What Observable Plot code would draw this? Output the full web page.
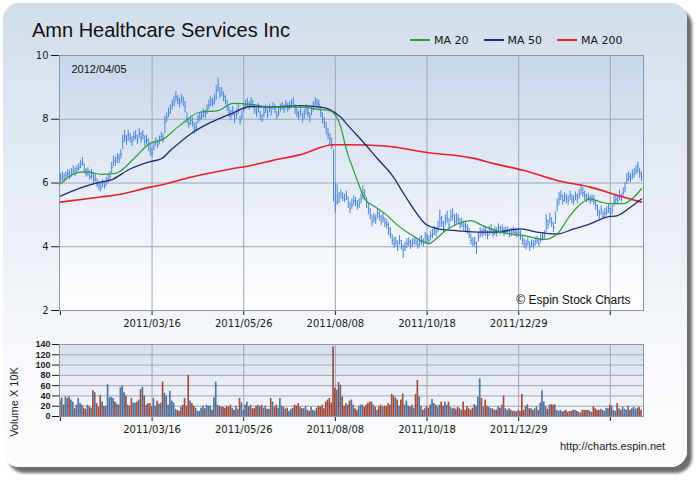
<!DOCTYPE html>
<html>
<head>
<meta charset="utf-8">
<script src="https://cdn.jsdelivr.net/npm/d3@7"></script>
<script src="https://cdn.jsdelivr.net/npm/@observablehq/plot@0.6"></script>
<style>
  html, body { margin: 0; padding: 0; background: #ffffff; }
  #wrap { position: relative; width: 700px; height: 480px; overflow: hidden; font-family: "Liberation Sans", Arial, sans-serif; }
  #panel { position: absolute; left: 3px; top: 3px; width: 684px; height: 464px; border-radius: 16px;
           background: linear-gradient(to bottom, #d2ddeb 0%, #e6ecf4 40%, #f6f8fb 75%, #fbfcfd 100%);
           box-shadow: 5px 6px 3px rgba(60,60,60,0.75); }
  #title { position: absolute; left: 32px; top: 19px; font-size: 20px; color: #111; white-space: nowrap; }
  #legend { position: absolute; left: 410px; top: 34px; font-family: "DejaVu Sans", sans-serif; font-size: 11px; color: #111; white-space: nowrap; }
  #legend .item { display: inline-block; margin-right: 15px; }
  #legend .sw { display: inline-block; width: 20px; height: 2px; vertical-align: middle; margin-right: 4px; position: relative; top: -1px; }
  #vlabel { position: absolute; left: 14px; top: 402px; transform: translate(-50%, -50%) rotate(-90deg); font-size: 11px; color: #222; white-space: nowrap; }
  #url { position: absolute; left: 560px; top: 440px; font-size: 11px; color: #222; white-space: nowrap; }
  svg.layer { position: absolute; left: 0; top: 0; }
</style>
</head>
<body>
<svg width="0" height="0" style="position:absolute">
  <defs>
    <linearGradient id="priceBg" x1="0" y1="0" x2="0" y2="1">
      <stop offset="0%" stop-color="#c7d6eb"/>
      <stop offset="55%" stop-color="#e8eef6"/>
      <stop offset="100%" stop-color="#ffffff"/>
    </linearGradient>
    <linearGradient id="volBg" x1="0" y1="0" x2="0" y2="1">
      <stop offset="0%" stop-color="#d7e0ee"/>
      <stop offset="100%" stop-color="#f7f9fc"/>
    </linearGradient>
  </defs>
</svg>
<div id="wrap">
  <div id="panel"></div>
  <div id="title">Amn Healthcare Services Inc</div>
  <div id="legend"></div>
  <div id="vlabel">Volume X 10K</div>
  <div id="url">http://charts.espin.net</div>
</div>
<script>
// ---------- data ----------
const dateLabel = "2012/04/05";
const xTickIdx = [0, 50, 100, 150, 200, 250, 300];
const xTickLabels = ["", "2011/03/16", "2011/05/26", "2011/08/08", "2011/10/18", "2011/12/29", ""];
const priceTicks = [2, 4, 6, 8, 10];
const volTicks = [0, 20, 40, 60, 80, 100, 120, 140];

const closes = [
 6.15,6.2,6.1,6.25,6.3,6.2,6.35,6.4,6.3,6.45,
 6.5,6.6,6.65,6.4,6.3,6.35,6.2,6.3,6.1,6.15,
 5.95,5.9,5.85,6.0,5.9,6.05,6.1,6.2,6.5,6.7,
 6.65,6.8,6.75,6.9,7.3,7.45,7.35,7.5,7.4,7.3,
 7.45,7.5,7.35,7.55,7.4,7.5,7.3,7.35,7.2,7.05,
 6.95,7.15,7.3,7.2,7.35,7.45,7.4,7.9,8.05,8.2,
 8.3,8.45,8.55,8.7,8.6,8.5,8.65,8.55,8.4,8.0,
 7.85,7.95,7.9,7.7,7.75,8.0,8.05,8.1,8.2,8.15,
 8.3,8.45,8.55,8.5,8.6,8.9,9.1,8.8,8.85,8.7,
 8.6,8.4,8.2,8.1,8.25,8.0,8.15,8.3,7.95,8.1,
 8.35,8.45,8.5,8.4,8.55,8.45,8.3,8.2,8.35,8.1,
 8.0,8.2,8.3,8.15,8.35,8.25,8.4,8.3,8.1,8.2,
 8.35,8.4,8.3,8.45,8.35,8.4,8.5,8.55,8.3,8.2,
 8.1,8.25,8.0,8.15,8.3,8.2,8.05,8.25,8.4,8.55,
 8.5,8.45,8.2,8.0,7.9,7.7,7.5,7.4,7.2,5.5,
 5.4,5.6,5.5,5.65,5.55,5.5,5.6,5.35,5.2,5.3,
 5.45,5.4,5.3,5.35,5.5,5.7,5.6,5.4,5.15,5.0,
 4.8,4.9,4.85,5.05,4.95,4.8,4.9,4.75,4.7,4.55,
 4.4,4.2,4.1,4.15,4.0,4.2,4.05,3.9,4.0,4.1,
 4.15,4.05,4.1,4.2,4.15,4.05,4.15,4.2,4.1,4.3,
 4.25,4.2,4.35,4.4,4.5,4.45,4.6,4.9,4.75,4.6,
 4.85,4.9,4.7,4.95,5.0,4.8,4.9,4.85,4.7,4.75,
 4.65,4.6,4.55,4.4,4.2,4.1,4.15,4.0,4.3,4.45,
 4.4,4.5,4.45,4.35,4.5,4.55,4.4,4.5,4.45,4.6,
 4.5,4.55,4.45,4.5,4.5,4.4,4.45,4.5,4.45,4.4,
 4.45,4.35,4.2,4.1,4.05,4.15,4.0,4.1,4.05,4.15,
 4.2,4.1,4.25,4.3,4.35,4.8,4.7,4.9,4.75,4.6,
 4.9,5.3,5.5,5.6,5.45,5.55,5.5,5.45,5.6,5.5,
 5.45,5.6,5.5,5.65,5.8,5.7,5.6,5.5,5.55,5.45,
 5.5,5.45,5.3,5.1,5.0,5.15,4.95,5.05,5.1,5.2,
 5.05,5.15,5.4,5.5,5.45,5.6,5.5,5.7,5.85,6.1,
 6.2,6.15,6.25,6.3,6.4,6.5,6.3,6.2
];
const highs = [
 6.3,6.35,6.3,6.35,6.42,6.4,6.45,6.55,6.48,6.55,
 6.62,6.7,6.8,6.6,6.45,6.48,6.38,6.42,6.3,6.28,
 6.12,6.05,6.02,6.1,6.05,6.18,6.25,6.35,6.65,6.85,
 6.8,6.92,6.9,7.05,7.5,7.65,7.5,7.65,7.55,7.45,
 7.6,7.65,7.5,7.7,7.58,7.65,7.48,7.5,7.38,7.2,
 7.1,7.3,7.42,7.35,7.48,7.6,7.55,8.1,8.2,8.35,
 8.45,8.6,8.72,8.87,8.75,8.65,8.78,8.7,8.55,8.2,
 8.0,8.1,8.05,7.88,7.9,8.12,8.2,8.25,8.32,8.28,
 8.45,8.6,8.72,8.65,8.78,9.05,9.3,9.0,9.0,8.85,
 8.75,8.58,8.38,8.28,8.4,8.2,8.3,8.45,8.1,8.25,
 8.5,8.6,8.65,8.55,8.68,8.6,8.45,8.35,8.5,8.25,
 8.15,8.35,8.45,8.3,8.48,8.4,8.52,8.45,8.25,8.35,
 8.48,8.52,8.45,8.58,8.5,8.55,8.62,8.68,8.45,8.35,
 8.25,8.4,8.18,8.3,8.45,8.35,8.2,8.4,8.55,8.68,
 8.62,8.6,8.4,8.2,8.05,7.9,7.7,7.55,7.4,7.05,
 6.0,5.95,5.7,5.78,5.7,5.65,5.75,5.55,5.4,5.5,
 5.6,5.55,5.45,5.5,5.65,5.92,5.8,5.55,5.35,5.2,
 4.98,5.05,5.0,5.2,5.1,4.98,5.05,4.9,4.85,4.75,
 4.6,4.38,4.3,4.3,4.18,4.35,4.2,4.05,4.15,4.25,
 4.28,4.2,4.25,4.32,4.28,4.2,4.3,4.35,4.25,4.45,
 4.4,4.35,4.5,4.55,4.65,4.6,4.8,5.15,4.95,4.8,
 5.0,5.12,4.88,5.15,5.2,5.0,5.05,5.0,4.88,4.9,
 4.8,4.75,4.7,4.58,4.38,4.28,4.3,4.15,4.45,4.6,
 4.55,4.65,4.6,4.5,4.65,4.7,4.55,4.62,4.6,4.72,
 4.65,4.68,4.6,4.62,4.62,4.55,4.58,4.62,4.58,4.55,
 4.58,4.5,4.35,4.25,4.2,4.28,4.15,4.22,4.2,4.28,
 4.32,4.25,4.38,4.42,4.5,5.0,4.85,5.05,4.9,4.75,
 5.1,5.5,5.7,5.75,5.62,5.7,5.65,5.6,5.75,5.65,
 5.6,5.72,5.65,5.8,5.95,5.85,5.75,5.65,5.68,5.6,
 5.62,5.6,5.45,5.3,5.15,5.28,5.1,5.2,5.25,5.35,
 5.2,5.3,5.6,5.65,5.6,5.78,5.65,5.85,6.0,6.3,
 6.35,6.3,6.4,6.45,6.55,6.65,6.45,6.35
];
const lows = [
 6.0,6.05,6.02,6.08,6.15,6.1,6.18,6.25,6.2,6.28,
 6.38,6.45,6.52,6.3,6.18,6.2,6.08,6.12,5.98,6.02,
 5.85,5.75,5.72,5.85,5.8,5.9,5.98,6.05,6.3,6.52,
 6.52,6.62,6.6,6.75,7.05,7.28,7.18,7.32,7.25,7.15,
 7.3,7.35,7.2,7.4,7.25,7.35,7.15,7.2,7.0,6.85,
 6.8,7.0,7.15,7.08,7.2,7.32,7.25,7.55,7.9,8.05,
 8.15,8.3,8.4,8.55,8.45,8.35,8.5,8.4,8.2,7.85,
 7.72,7.82,7.75,7.53,7.6,7.85,7.92,7.98,8.05,8.02,
 8.15,8.3,8.4,8.38,8.45,8.6,8.85,8.65,8.7,8.55,
 8.45,8.25,8.05,7.95,8.1,7.86,8.0,8.15,7.82,7.98,
 8.2,8.3,8.38,8.28,8.4,8.32,8.15,8.05,8.2,7.95,
 7.9,8.05,8.18,8.02,8.2,8.1,8.28,8.18,7.98,8.08,
 8.22,8.28,8.18,8.32,8.22,8.28,8.38,8.42,8.15,8.05,
 7.95,8.1,7.88,8.0,8.15,8.05,7.9,8.1,8.25,8.4,
 8.35,8.3,8.05,7.85,7.7,7.5,7.35,7.2,7.05,5.4,
 5.05,5.3,5.35,5.5,5.42,5.38,5.45,5.2,5.05,5.18,
 5.3,5.25,5.15,5.2,5.35,5.5,5.45,5.2,5.0,4.85,
 4.62,4.75,4.7,4.88,4.8,4.65,4.75,4.6,4.55,4.35,
 4.25,4.05,3.95,4.0,3.85,4.05,3.9,3.63,3.85,3.95,
 4.0,3.92,3.98,4.05,4.02,3.92,4.0,4.05,3.98,4.12,
 4.1,4.05,4.2,4.25,4.35,4.3,4.45,4.6,4.6,4.45,
 4.65,4.72,4.55,4.78,4.82,4.65,4.72,4.7,4.55,4.6,
 4.5,4.45,4.4,4.25,4.05,3.98,4.0,3.75,4.15,4.3,
 4.28,4.35,4.32,4.22,4.35,4.4,4.28,4.35,4.3,4.45,
 4.38,4.4,4.32,4.38,4.38,4.28,4.32,4.38,4.32,4.28,
 4.32,4.2,4.05,3.95,3.9,4.02,3.85,3.98,3.92,4.02,
 4.08,3.98,4.12,4.18,4.22,4.45,4.55,4.72,4.6,4.45,
 4.7,5.1,5.3,5.45,5.3,5.4,5.35,5.3,5.45,5.35,
 5.3,5.45,5.35,5.5,5.62,5.55,5.45,5.38,5.42,5.32,
 5.38,5.3,5.15,4.95,4.85,5.0,4.85,4.92,4.98,5.05,
 4.95,5.02,5.25,5.35,5.32,5.45,5.38,5.55,5.7,5.95,
 6.05,6.02,6.1,6.15,6.25,6.3,6.15,6.05
];
const volumes = [
 32,36,22,38,35,38,32,28,15,22,
 35,25,22,16,14,22,19,16,50,46,
 25,18,41,28,19,20,62,36,37,35,
 28,24,22,56,59,46,40,22,20,35,
 26,26,28,32,52,57,40,22,25,25,
 19,35,20,30,24,26,67,45,40,22,
 49,30,26,14,12,10,18,22,35,20,
 80,30,25,20,16,10,10,16,20,15,
 22,20,20,12,36,67,22,20,18,18,
 16,20,18,22,16,12,20,14,35,26,
 12,22,28,19,22,15,15,20,22,18,
 22,16,20,14,14,35,28,18,22,16,
 35,20,18,14,16,10,14,16,22,20,
 25,18,15,15,20,12,10,18,12,10,
 16,20,18,22,15,28,32,35,26,135,
 55,51,66,61,38,20,25,22,30,32,
 22,15,12,19,22,22,18,22,26,28,
 28,22,18,12,19,22,18,20,19,25,
 22,43,40,36,32,20,32,44,22,30,
 20,18,22,16,43,70,38,20,12,15,
 19,16,22,33,25,22,18,22,28,20,
 28,22,28,18,15,16,14,18,15,12,
 28,12,19,15,12,16,23,20,38,73,
 35,19,32,20,18,15,15,12,12,19,
 16,22,40,15,12,15,12,10,10,9,
 12,10,43,12,19,23,15,15,12,15,
 19,12,26,50,28,19,14,22,23,22,
 23,12,10,12,9,10,12,8,10,10,
 12,12,10,8,7,12,12,12,12,10,
 8,19,15,12,12,14,12,10,16,15,
 22,20,12,10,25,15,12,18,14,12,
 20,12,15,18,14,16,18,12
];

// moving averages at bar indexes
const ma20Idx = [0,11,16,22,30,40,49,55,65,76,86,94,105,115,131,142,147,153,155,157,159,163,166,172,177,184,192,201,205,210,217,224,230,235,245,253,264,271,278,284,289,295,300,307,313,317];
const ma20Val = [5.97,6.34,6.34,6.27,6.3,6.76,7.25,7.34,7.8,8.22,8.27,8.5,8.46,8.38,8.38,8.3,8.27,7.75,7.28,6.86,6.55,5.92,5.5,5.24,5.04,4.67,4.35,4.1,4.25,4.5,4.73,4.82,4.67,4.56,4.4,4.35,4.23,4.4,4.98,5.35,5.5,5.4,5.35,5.35,5.56,5.82];
const ma50Idx = [0,11,22,27,38,49,55,60,71,82,93,104,115,131,142,147,153,157,166,173,181,188,194,199,206,217,228,237,251,260,271,280,289,298,304,311,317];
const ma50Val = [5.59,5.85,6.03,6.08,6.44,6.67,6.76,7.02,7.54,7.9,8.17,8.4,8.38,8.43,8.38,8.3,8.06,7.8,7.23,6.76,6.24,5.6,5.08,4.72,4.56,4.5,4.46,4.46,4.56,4.46,4.4,4.56,4.72,4.93,4.98,5.24,5.5];
const ma200Idx = [0,22,31,49,55,71,93,104,116,131,149,157,177,201,225,237,253,271,289,307,317];
const ma200Val = [5.4,5.56,5.63,5.87,5.94,6.18,6.44,6.55,6.71,6.89,7.2,7.2,7.16,6.95,6.78,6.6,6.39,6.08,5.87,5.56,5.4];

const seriesNames = ["MA 20", "MA 50", "MA 200"];
const seriesColors = ["#2f9a3c", "#1f2a70", "#e3202b"];

// ---------- build tables ----------
const bars = closes.map((c, i) => ({
  i, c, h: highs[i], l: lows[i], v: volumes[i],
  down: i > 0 && c < closes[i - 1]
}));
const ma20 = ma20Idx.map((i, k) => ({i, v: ma20Val[k]}));
const ma50 = ma50Idx.map((i, k) => ({i, v: ma50Val[k]}));
const ma200 = ma200Idx.map((i, k) => ({i, v: ma200Val[k]}));
const tickLabel = new Map(xTickIdx.map((t, k) => [t, xTickLabels[k]]));
const xDomain = [-0.5, 318.1];
const gridX = xTickIdx.slice(1);
const gridColor = "#9ea6b3";

// legend
const leg = document.getElementById("legend");
seriesNames.forEach((n, k) => {
  const it = document.createElement("span");
  it.className = "item";
  it.innerHTML = `<span class="sw" style="background:${seriesColors[k]}"></span>${n}`;
  leg.appendChild(it);
});

const wrap = document.getElementById("wrap");

// ---------- price chart ----------
const price = Plot.plot({
  width: 700, height: 480,
  marginLeft: 59, marginRight: 57, marginTop: 55, marginBottom: 170,
  style: {background: "transparent", fontFamily: "DejaVu Sans, sans-serif", fontSize: "10px", color: "#1a1a1a", overflow: "visible"},
  x: {domain: xDomain, ticks: xTickIdx, tickFormat: d => tickLabel.get(d) ?? "", tickSize: 5, label: null},
  y: {domain: [2, 10], ticks: priceTicks, tickSize: 8, tickPadding: 3, label: null},
  marks: [
    Plot.frame({fill: "url(#priceBg)"}),
    Plot.ruleY(priceTicks.slice(1, -1), {stroke: gridColor, strokeWidth: 1}),
    Plot.ruleX(gridX, {stroke: gridColor, strokeWidth: 1}),
    Plot.ruleX(bars, {x: "i", y1: "l", y2: "h", stroke: "#4a84da", strokeWidth: 1}),
    Plot.link(bars, {x1: "i", x2: d => d.i + 0.6, y1: "c", y2: "c", stroke: "#4a84da", strokeWidth: 1}),
    Plot.line(ma200, {x: "i", y: "v", stroke: seriesColors[2], strokeWidth: 1.6, curve: "monotone-x"}),
    Plot.line(ma50, {x: "i", y: "v", stroke: seriesColors[1], strokeWidth: 1.3, curve: "monotone-x"}),
    Plot.line(ma20, {x: "i", y: "v", stroke: seriesColors[0], strokeWidth: 1.2, curve: "monotone-x"}),
    Plot.frame({stroke: "#8d96a3"}),
    Plot.text([dateLabel], {frameAnchor: "top-left", dx: 12, dy: 10, lineAnchor: "top", textAnchor: "start",
      fontFamily: "Liberation Sans, Arial, sans-serif", fontSize: 11, fill: "#111"}),
    Plot.text(["© Espin Stock Charts"], {frameAnchor: "bottom-right", dx: -13, dy: -7, lineAnchor: "bottom", textAnchor: "end",
      fontFamily: "Liberation Sans, Arial, sans-serif", fontSize: 12, fill: "#111"})
  ]
});
price.setAttribute("class", (price.getAttribute("class") || "") + " layer");
wrap.appendChild(price);

// ---------- volume chart ----------
const vol = Plot.plot({
  width: 700, height: 480,
  marginLeft: 59, marginRight: 57, marginTop: 344, marginBottom: 64,
  style: {background: "transparent", fontFamily: "DejaVu Sans, sans-serif", fontSize: "10px", color: "#1a1a1a", overflow: "visible"},
  x: {domain: xDomain, ticks: xTickIdx, tickFormat: d => tickLabel.get(d) ?? "", tickSize: 5, tickPadding: 4, label: null},
  y: {domain: [0, 140], ticks: volTicks, tickSize: 7, tickPadding: 2, label: null},
  marks: [
    Plot.frame({fill: "url(#volBg)"}),
    Plot.ruleY(volTicks.slice(1, -1), {stroke: gridColor, strokeWidth: 1}),
    Plot.ruleX(gridX, {stroke: gridColor, strokeWidth: 1}),
    Plot.rect(bars, {x1: d => d.i - 0.45, x2: d => d.i + 0.45, y1: 0, y2: "v",
      fill: d => d.down ? "#a04a3e" : "#51709b"}),
    Plot.frame({stroke: "#8d96a3"})
  ]
});
vol.setAttribute("class", (vol.getAttribute("class") || "") + " layer");
wrap.appendChild(vol);
// bold compact labels on the volume y axis
vol.querySelectorAll("g[aria-label='y-axis tick label'] text, g[aria-label='y-axis'] text").forEach(t => {
  t.setAttribute("font-family", "Liberation Sans, Arial, sans-serif");
  t.setAttribute("font-weight", "bold");
  t.setAttribute("font-size", "9");
});
</script>
</body>
</html>
